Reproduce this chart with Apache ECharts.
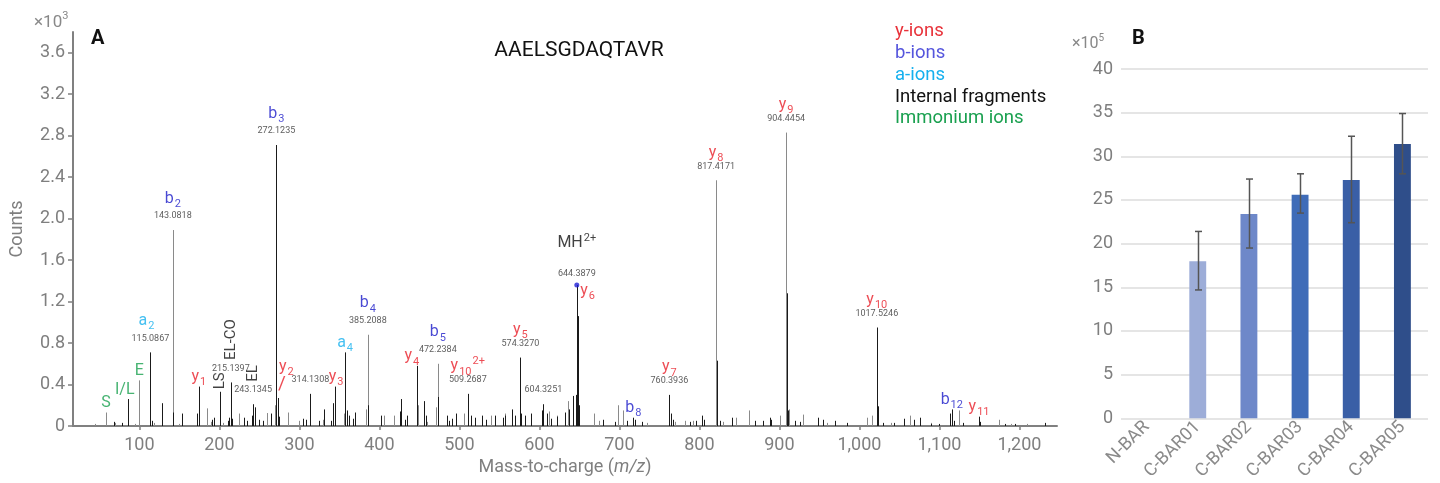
<!DOCTYPE html>
<html><head><meta charset="utf-8">
<script src="https://cdn.jsdelivr.net/npm/echarts@6/dist/echarts.min.js"></script>
<style>html,body{margin:0;padding:0;background:#fff}#c{width:1440px;height:483px}</style>
</head><body><div id="c"></div>
<script>
// ---------- DATA (panel A: MS/MS spectrum, counts x10^3) ----------
const xTickValues = [100,200,300,400,500,600,700,800,900,1000,1100,1200];
// light (gray) peaks [m/z, counts]
const grayPeaks = [[58.4,.13],[100,.44],[141.75,1.89],[385.5,.88],[473,.60],[820.9,2.37],[908.4,2.83],
 [184.2,.17],[225,.12],[259,.125],[270,.2],[286,.13],[355.5,.12],[383.4,.16],[406,.1],[418,.1],[448,.2],[470.5,.18],
 [506,.12],[539,.1],[557,.12],[612,.14],[622,.1],[636,.24],[648.6,.2],[668,.12],[698.7,.2],[704.6,.15],[782,.05],
 [792,.05],[845.5,.08],[862,.15],[901,.1],[912,.16],[930,.11],[1009,.08],[1015.5,.1],[1063,.1],[1124,.15],[1174.6,.06],
 [45,.02],[70,.03],[95,.02],[118,.03],[150,.02],[190,.04],[205,.03],[300,.05],[330,.06],[460,.04],[520,.05],[590,.06],
 [675,.05],[735,.03],[770,.04],[830,.04],[880,.03],[960,.03],[1040,.03],[1090,.03],[1190,.02],[1210,.02]];
// dark (black) peaks [m/z, counts]
const darkPeaks = [[85.5,.26],[113.75,.71],[271.25,2.71],[174.25,.38],[200.5,.33],[214.25,.42],[242.1,.21],[273.75,.27],
 [313.75,.31],[344.6,.38],[357.1,.71],[446.75,.58],[510.5,.31],[576.25,.66],[605,.21],[646.75,1.36],[717.5,.08],[762.5,.30],
 [1021.75,.95],[1115.5,.16],[1149.6,.09],
 [386.2,.2],[473.6,.28],[821.5,.63],[822.2,.31],[909,1.28],[909.6,.37],[910.3,.15],[1022.4,.37],[1023,.19],
 [647.4,1.25],[648,1.06],[648.6,.48],[645.8,.3],[649.3,.2],[575.5,.2],[577,.12],
 [68,.04],[78,.03],[115.5,.05],[128,.22],[142.5,.13],[153.7,.12],[171.7,.12],[175,.1],[191,.06],[193,.08],[211,.05],
 [212.5,.08],[215.5,.07],[231,.08],[234,.05],[241,.1],[244,.18],[250,.06],[254,.05],[265,.12],[275,.09],[305,.07],
 [308,.06],[324,.05],[330.5,.16],[339,.05],[341.7,.22],[359,.15],[362,.1],[369,.13],[366.6,.07],[401.7,.1],[427,.26],
 [426,.14],[432,.06],[435,.1],[447.5,.12],[456.3,.24],[458,.1],[484,.1],[487,.05],[491,.07],[496,.12],[514,.1],[520,.08],
 [528,.1],[533,.06],[545,.1],[555,.08],[557.5,.1],[566.3,.16],[570,.1],[582,.1],[589,.12],[603,.15],[610,.12],[615,.07],
 [622.5,.09],[632,.13],[637.5,.16],[642.5,.29],[680,.06],[694,.04],[710,.05],[720,.06],[728,.04],[764,.12],[767,.06],
 [788,.04],[796,.05],[803,.1],[806,.06],[826,.05],[841.3,.08],[870,.05],[880,.05],[888,.08],[890,.06],[920,.05],[926,.04],
 [948.8,.08],[955,.06],[970,.05],[985,.03],[1030,.03],[1043,.03],[1055.8,.07],[1068,.06],[1075.8,.08],[1090,.02],
 [1100,.02],[1113.4,.12],[1118,.05],[1130,.03],[1151,.04],[1182,.02],[1195,.02],[1232,.03]];
// annotated peaks
const annMz   = [58.4,85.5,100,113.75,141.75,271.25,174.25,200.5,214.25,242.1,273.75,313.75,344.6,357.1,385.5,446.75,473,510.5,576.25,605,646.75,646.75,717.5,762.5,820.9,908.4,1021.75,1115.5,1149.6];
const annInt  = [.13,.26,.44,.71,1.89,2.71,.38,.33,.42,.21,.27,.31,.38,.71,.88,.58,.60,.31,.66,.21,1.36,1.36,.08,.30,2.37,2.83,.95,.16,.09];
const annIon  = ['S','I/L','E','a2','b2','b3','y1','LS','EL-CO','EL','y2','','y3','a4','b4','y4','b5','y10^2+','y5','','MH^2+','y6','b8','y7','y8','y9','y10','b12','y11'];
const annMass = ['','','','115.0867','143.0818','272.1235','','','215.1397','243.1345','','314.1308','','','385.2088','','472.2384','509.2687','574.3270','604.3251','644.3879','','','760.3936','817.4171','904.4454','1017.5246','',''];
const legendItems = ['y-ions','b-ions','a-ions','Internal fragments','Immonium ions'];

// ---------- DATA (panel B, x10^5) ----------
const barCats = ['N-BAR','C-BAR01','C-BAR02','C-BAR03','C-BAR04','C-BAR05'];
const barVals = [null,18.0,23.4,25.6,27.3,31.4];
const errLow  = [null,14.7,19.5,23.5,22.4,28.0];
const errHigh = [null,21.4,27.4,28.0,32.3,34.9];

// ---------- STYLE ----------
const FONT = 'Roboto';
const ionColors = {y:'#e8202a', b:'#1a1ac8', a:'#16b0ee', imm:'#19a04f', int:'#111', mh:'#111'};
const legendColors = ['#e8323a','#5555dd','#16b0ee','#111111','#19a04f'];
const barColors = ['#9dadd8','#9dadd8','#6e88c9','#3f6cb8','#3a5fa6','#2f4e8a'];
const immList = ['S','I/L','E'], intList = ['LS','EL-CO','EL'];
function ionType(ion){
  if (immList.includes(ion)) return 'imm';
  if (intList.includes(ion)) return 'int';
  if (ion.startsWith('MH')) return 'mh';
  return ion[0];
}
const rich = {
  n:{fontFamily:FONT,fontSize:16,lineHeight:20,padding:[3,0,0,0],verticalAlign:'top'},
  t:{fontFamily:FONT,fontSize:16,lineHeight:20,padding:[3,0,0,0],verticalAlign:'top'},
  s:{fontFamily:FONT,fontSize:11,lineHeight:13,padding:[11,0,0,1],verticalAlign:'top'},
  p:{fontFamily:FONT,fontSize:11,lineHeight:13,padding:[0,0,0,1],verticalAlign:'top'},
  sl:{fontFamily:FONT,fontSize:19,lineHeight:18,padding:[0,9,0,0]}
};
function fmtIon(ion){
  const m = /^([A-Za-z]+)(\d*)(?:\^(.+))?$/.exec(ion);
  if (!m) return '{t|'+ion+'}';
  let s = '{n|'+m[1]+'}';
  if (m[2]) s += '{s|'+m[2]+'}';
  if (m[3]) s += '{p|'+m[3]+'}';
  return s;
}
const tweaks = {
  'I/L':{offset:[-3,0]}, 'y4':{offset:[-5,0]}, 'a2':{offset:[-4,0]},
  'y2':{distance:4, offset:[8,0], extra:'\n{sl|/}'},
  'MH^2+':{distance:30},
  'y6':{position:'right', distance:3, offset:[0,5]},
  'y3':{offset:[1,0]}
};
const nameItems = [], massItems = [];
annIon.forEach((ion,i)=>{
  const hasMass = annMass[i] !== '';
  if (hasMass) {
    massItems.push({value:[annMz[i],annInt[i]], label:{show:true, position:'top', distance: ion.startsWith('MH')?6:9,
      formatter:annMass[i], fontSize:9, color:'#333', fontFamily:FONT}});
  }
  if (!ion) return;
  const type = ionType(ion);
  const tw = tweaks[ion] || {};
  const lab = {show:true, position: tw.position || 'top', color: ionColors[type], rich: rich,
    formatter: fmtIon(ion) + (tw.extra || ''),
    distance: tw.distance !== undefined ? tw.distance : (hasMass ? (type==='y'?18:22) : 0)};
  if (tw.offset) lab.offset = tw.offset;
  if (type==='int') Object.assign(lab, {rotate:90, align:'left', verticalAlign:'middle', formatter: ion,
    fontSize:15, fontFamily:FONT, distance: hasMass?22:2});
  const item = {value:[annMz[i],annInt[i]], label:lab};
  if (type==='mh') { item.symbolSize = 5; item.itemStyle = {color:'#1f1fd6'}; }
  nameItems.push(item);
});

function peakRenderer(color){
  return function(params, api){
    const p0 = api.coord([api.value(0), 0]);
    const p1 = api.coord([api.value(0), api.value(1)]);
    const x = Math.round(p0[0]) + 0.5;
    return {type:'line', silent:true, shape:{x1:x,y1:p0[1],x2:x,y2:p1[1]}, style:{stroke:color, lineWidth:1}};
  };
}

const chart = echarts.init(document.getElementById('c'), null, {renderer:'canvas'});
const graphic = [
  {type:'text', x:34, y:11, style:{text:'{a|×10}{b|3}', rich:{a:{fontSize:17,fontFamily:FONT,fill:'#888',verticalAlign:'top',lineHeight:18,padding:[3,0,0,0]},b:{fontSize:11,fontFamily:FONT,fill:'#888',verticalAlign:'top',lineHeight:12}}}},
  {type:'text', x:91, y:29, style:{text:'A', font:'bold 20px '+FONT, fill:'#111'}},
  {type:'text', x:1072, y:33, style:{text:'{a|×10}{b|5}', rich:{a:{fontSize:16,fontFamily:FONT,fill:'#888',verticalAlign:'top',lineHeight:18,padding:[3,0,0,0]},b:{fontSize:10,fontFamily:FONT,fill:'#888',verticalAlign:'top',lineHeight:12}}}},
  {type:'text', x:1132, y:29, style:{text:'B', font:'bold 20px '+FONT, fill:'#111'}},
  {type:'text', x:579, y:51, style:{text:'AAELSGDAQTAVR', font:'21px '+FONT, fill:'#111', align:'center', verticalAlign:'middle'}}
];
legendItems.forEach((t,i)=>{
  graphic.push({type:'text', x:895, y:22+i*21.8, style:{text:t, font:'18.5px '+FONT, fill:legendColors[i], verticalAlign:'top'}});
});

chart.setOption({
  animation:false,
  textStyle:{fontFamily:FONT},
  graphic: graphic,
  grid:[
    {left:73, right:383, top:32, bottom:57},
    {left:1121, right:12, top:69, bottom:62}
  ],
  xAxis:[
    {type:'value', gridIndex:0, min:17, max:1247, splitLine:{show:false},
     axisLine:{lineStyle:{color:'#808080', width:2}},
     axisTick:{show:true, customValues:xTickValues, length:4, lineStyle:{color:'#808080', width:1.5}},
     axisLabel:{customValues:xTickValues, fontSize:18, color:'#7f7f7f', margin:10,
       formatter:v=>v.toLocaleString('en-US')},
     name:'Mass-to-charge ({i|m/z})', nameLocation:'middle', nameGap:32,
     nameTextStyle:{fontSize:18, color:'#7f7f7f', rich:{i:{fontSize:18, fontStyle:'italic', color:'#7f7f7f', fontFamily:FONT}}}},
    {type:'category', gridIndex:1, data:barCats, axisLine:{show:false}, axisTick:{show:false},
     axisLabel:{rotate:45, fontSize:18, color:'#8a8a8a', margin:6, interval:0}}
  ],
  yAxis:[
    {type:'value', gridIndex:0, min:0, max:3.8, interval:0.4, splitLine:{show:false},
     axisLine:{show:true, lineStyle:{color:'#808080', width:2}},
     axisTick:{show:true, length:5, lineStyle:{color:'#808080', width:1.5}},
     axisLabel:{fontSize:18, color:'#7f7f7f', margin:8, showMaxLabel:false, formatter:v=>v.toFixed(1).replace(/^0\.0$/,'0')},
     name:'Counts', nameLocation:'middle', nameGap:47, nameTextStyle:{fontSize:18, color:'#7f7f7f'}},
    {type:'value', gridIndex:1, min:0, max:40, interval:5,
     axisLine:{show:false}, axisTick:{show:false},
     splitLine:{lineStyle:{color:'#dcdcdc', width:1.5}},
     axisLabel:{fontSize:18, color:'#7f7f7f', margin:8}}
  ],
  series:[
    {type:'custom', name:'gray', xAxisIndex:0, yAxisIndex:0, silent:true, encode:{x:0,y:1},
     renderItem: peakRenderer('#8a8a8a'), data: grayPeaks, z:2},
    {type:'custom', name:'dark', xAxisIndex:0, yAxisIndex:0, silent:true, encode:{x:0,y:1},
     renderItem: peakRenderer('#1a1a1a'), data: darkPeaks, z:3},
    {type:'scatter', name:'mass', xAxisIndex:0, yAxisIndex:0, silent:true, symbolSize:1,
     itemStyle:{color:'rgba(0,0,0,0)'}, data: massItems, z:5},
    {type:'scatter', name:'ions', xAxisIndex:0, yAxisIndex:0, silent:true, symbolSize:1,
     itemStyle:{color:'rgba(0,0,0,0)'}, data: nameItems, z:6},
    {type:'bar', xAxisIndex:1, yAxisIndex:1, barWidth:'33%', silent:true,
     data: barVals.map((v,i)=>({value:v, itemStyle:{color:barColors[i]}}))},
    {type:'custom', xAxisIndex:1, yAxisIndex:1, silent:true, encode:{x:0,y:[1,2]}, z:10,
     data: barCats.map((c,i)=>[i, errLow[i], errHigh[i]]).filter(d=>d[1]!==null),
     renderItem:function(params, api){
       const lo = api.coord([api.value(0), api.value(1)]);
       const hi = api.coord([api.value(0), api.value(2)]);
       const x = Math.round(lo[0]) + 0.5, w = 3.5;
       const st = {stroke:'#555', lineWidth:1.5};
       return {type:'group', children:[
         {type:'line', shape:{x1:x,y1:lo[1],x2:x,y2:hi[1]}, style:st},
         {type:'line', shape:{x1:x-w,y1:lo[1],x2:x+w,y2:lo[1]}, style:st},
         {type:'line', shape:{x1:x-w,y1:hi[1],x2:x+w,y2:hi[1]}, style:st}
       ]};
     }}
  ]
});
</script>
</body></html>
